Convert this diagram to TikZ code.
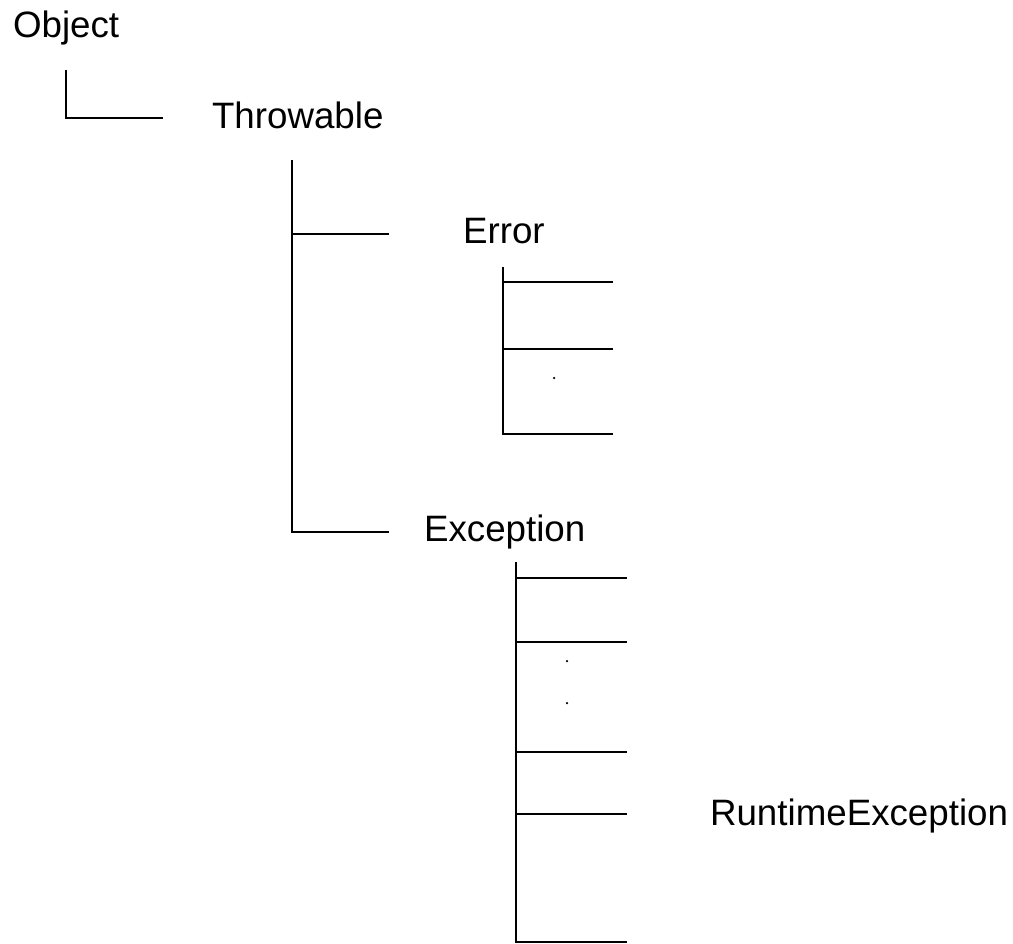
\documentclass[tikz,border=0pt]{standalone}
\usepackage{fontspec}
\setmainfont{Liberation Sans}
\begin{document}
\begin{tikzpicture}[x=0.02cm, y=-0.02cm,
                    line width=1.2pt,
                    ]
    \tikzstyle{classname}=[anchor=base west, inner sep=0pt, font=\fontsize{20.9}{24}\selectfont];
    \tikzstyle{gap}=[fill=black];

    \useasboundingbox (0,0) rectangle (1013,943);

    % class names
    \node[classname] (object) at (12,37) {Object};
    \node[classname] (throwable) at (211,128) {Throwable};
    \node[classname] (error) at (462,243) {Error};
    \node[classname] (exception) at (423,541) {Exception};
    \node[classname] (runtime) at (709,825) {RuntimeException};

    % Object -> Throwable
    \coordinate (objtop) at (66,70);
    \coordinate (objend) at (163,118);
    \draw (objtop) |- (objend);

    % Throwable -> Error, Exception
    \coordinate (thrtop) at (292,160);
    \coordinate (threrr) at (389,234);
    \coordinate (threxc) at (389,532);
    \draw (thrtop) |- (threxc);
    \draw (thrtop |- threrr) -- (threrr);

    % Error subclasses
    \coordinate (errtop) at (503,267);
    \coordinate (errend) at (613,434);
    \draw (errtop) |- (errend);
    \foreach \y in {282,349}
        \draw (errtop |- 0,\y) -- (errend |- 0,\y);
    \fill[gap] (554,378) circle[radius=0.025cm];

    % Exception subclasses
    \coordinate (exctop) at (516,562);
    \coordinate (excend) at (627,942);
    \draw (exctop) |- (excend);
    \foreach \y in {578,642,752,814}
        \draw (exctop |- 0,\y) -- (excend |- 0,\y);
    \foreach \y in {661,703}
        \fill[gap] (567,\y) circle[radius=0.025cm];
\end{tikzpicture}
\end{document}
